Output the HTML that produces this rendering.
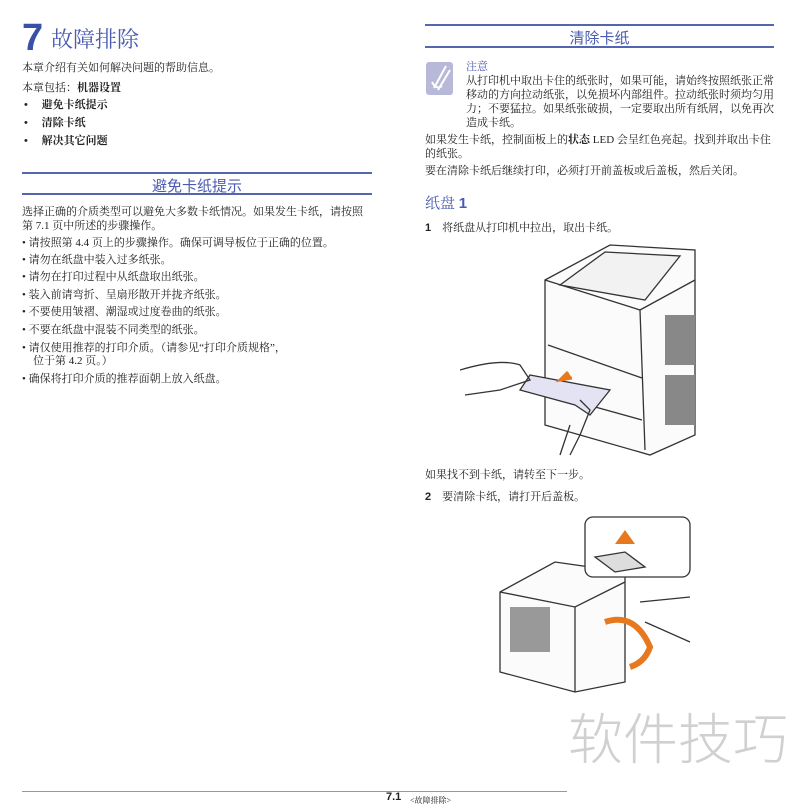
<!DOCTYPE html>
<html><head><meta charset="utf-8">
<style>
body{margin:0;width:800px;height:800px;background:#fff;position:relative;overflow:hidden;font-family:"Liberation Serif","Noto Serif CJK SC","Noto Sans CJK SC",serif;color:#222;}
.t{position:absolute;font-size:11px;line-height:13px;white-space:nowrap;}
.b{font-weight:bold}
.blue{color:#4a5bb0}
.line{position:absolute;height:2px;background:#5566b0}
.sec{position:absolute;font-size:15px;color:#4a5bb0;text-align:center;font-family:"Liberation Sans","Noto Sans CJK SC",sans-serif;}
</style></head><body>
<div class="t" style="left:22px;top:18px;font-size:38px;line-height:40px;font-weight:bold;color:#3a4fa8;font-family:'Liberation Sans',sans-serif">7</div>
<div class="t blue" style="left:51px;top:27px;font-size:22px;line-height:26px">故障排除</div>
<div class="t" style="left:22px;top:62px">本章介绍有关如何解决问题的帮助信息。</div>
<div class="t" style="left:22px;top:82px">本章包括：<span class="b">机器设置</span></div>
<div class="t b" style="left:24px;top:99px">•&nbsp;&nbsp;&nbsp;&nbsp;&nbsp;避免卡纸提示</div>
<div class="t b" style="left:24px;top:117px">•&nbsp;&nbsp;&nbsp;&nbsp;&nbsp;清除卡纸</div>
<div class="t b" style="left:24px;top:135px">•&nbsp;&nbsp;&nbsp;&nbsp;&nbsp;解决其它问题</div>
<div class="line" style="left:22px;top:172px;width:350px"></div>
<div class="sec" style="left:22px;top:175px;width:350px">避免卡纸提示</div>
<div class="line" style="left:22px;top:193px;width:350px"></div>
<div class="t" style="left:22px;top:206px">选择正确的介质类型可以避免大多数卡纸情况。如果发生卡纸，请按照</div>
<div class="t" style="left:22px;top:220px">第 7.1 页中所述的步骤操作。</div>
<div class="t" style="left:22px;top:237px">• 请按照第 4.4 页上的步骤操作。确保可调导板位于正确的位置。</div>
<div class="t" style="left:22px;top:254px">• 请勿在纸盘中装入过多纸张。</div>
<div class="t" style="left:22px;top:271px">• 请勿在打印过程中从纸盘取出纸张。</div>
<div class="t" style="left:22px;top:289px">• 装入前请弯折、呈扇形散开并拢齐纸张。</div>
<div class="t" style="left:22px;top:306px">• 不要使用皱褶、潮湿或过度卷曲的纸张。</div>
<div class="t" style="left:22px;top:324px">• 不要在纸盘中混装不同类型的纸张。</div>
<div class="t" style="left:22px;top:342px">• 请仅使用推荐的打印介质。（请参见“打印介质规格”，</div>
<div class="t" style="left:33px;top:355px">位于第 4.2 页。）</div>
<div class="t" style="left:22px;top:373px">• 确保将打印介质的推荐面朝上放入纸盘。</div>

<div class="line" style="left:425px;top:24px;width:349px"></div>
<div class="sec" style="left:425px;top:27px;width:349px">清除卡纸</div>
<div class="line" style="left:425px;top:46px;width:349px"></div>
<svg style="position:absolute;left:426px;top:60px" width="28" height="36"><rect x="0" y="2" width="27" height="33" rx="3" fill="#b8b8d8"/><path d="M8 28 L20 6 M12 30 L24 10 M6 22 Q10 30 16 26" stroke="#fff" stroke-width="2" fill="none"/></svg>
<div class="t blue" style="left:466px;top:61px">注意</div>
<div class="t" style="left:466px;top:75px">从打印机中取出卡住的纸张时，如果可能，请始终按照纸张正常</div>
<div class="t" style="left:466px;top:89px">移动的方向拉动纸张，以免损坏内部组件。拉动纸张时须均匀用</div>
<div class="t" style="left:466px;top:103px">力；不要猛拉。如果纸张破损，一定要取出所有纸屑，以免再次</div>
<div class="t" style="left:466px;top:117px">造成卡纸。</div>
<div class="t" style="left:425px;top:134px">如果发生卡纸，控制面板上的<span class="b">状态</span> LED 会呈红色亮起。找到并取出卡住</div>
<div class="t" style="left:425px;top:148px">的纸张。</div>
<div class="t" style="left:425px;top:165px">要在清除卡纸后继续打印，必须打开前盖板或后盖板，然后关闭。</div>
<div class="t blue" style="left:425px;top:195px;font-size:15px;line-height:17px">纸盘 <b style="font-family:'Liberation Sans',sans-serif">1</b></div>
<div class="t" style="left:425px;top:222px"><b style="font-family:'Liberation Sans',sans-serif">1</b>&nbsp;&nbsp;&nbsp;&nbsp;将纸盘从打印机中拉出，取出卡纸。</div>

<svg style="position:absolute;left:460px;top:240px" width="240" height="220" fill="none" stroke="#333" stroke-width="1.3">
<path d="M85 40 L150 5 L235 10 L235 195 L190 215 L85 185 Z" fill="#fbfbfb"/>
<path d="M85 40 L180 70 L235 40" />
<path d="M180 70 L185 210"/>
<path d="M100 45 L145 12 L220 16 L185 60 Z" fill="#f2f2f2"/>
<rect x="205" y="75" width="30" height="50" fill="#888" stroke="none"/>
<rect x="205" y="135" width="30" height="50" fill="#888" stroke="none"/>
<path d="M88 105 L182 138 M92 155 L182 180"/>
<path d="M70 135 L150 150 L130 175 L115 165 L60 150 Z" fill="#e4e3f4"/>
<path d="M108 132 L100 140 L112 138" fill="#e8781e" stroke="#e8781e" stroke-width="3"/>
<path d="M0 130 Q40 118 60 125 L70 140 L40 150 L5 155"/>
<path d="M120 160 L130 170 L120 195 L110 215 M100 215 L110 185"/>
</svg>
<div class="t" style="left:425px;top:469px">如果找不到卡纸，请转至下一步。</div>
<div class="t" style="left:425px;top:491px"><b style="font-family:'Liberation Sans',sans-serif">2</b>&nbsp;&nbsp;&nbsp;&nbsp;要清除卡纸，请打开后盖板。</div>

<svg style="position:absolute;left:495px;top:512px" width="200" height="185" fill="none" stroke="#333" stroke-width="1.3">
<path d="M5 80 L60 50 L130 60 L130 170 L80 180 L5 160 Z" fill="#fbfbfb"/>
<path d="M5 80 L80 95 L130 70 M80 95 L80 180"/>
<rect x="15" y="95" width="40" height="45" fill="#999" stroke="none"/>
<rect x="90" y="5" width="105" height="60" rx="8" fill="#fff"/>
<path d="M100 45 L130 40 L150 55 L120 60 Z" fill="#ddd"/>
<path d="M130 18 L140 32 L120 32 Z" fill="#e8781e" stroke="none"/>
<path d="M110 110 Q140 100 155 135 Q150 150 135 155" stroke="#e8781e" stroke-width="6"/>
<path d="M145 90 L195 85 M150 110 L195 130"/>
</svg>

<div class="t" style="left:568px;top:702px;font-size:55px;line-height:66px;color:#d0d0d0;font-family:'Noto Sans CJK SC',sans-serif;font-weight:300">软件技巧</div>
<div style="position:absolute;left:22px;top:791px;width:545px;height:1px;background:#999"></div>
<div class="t b" style="left:386px;top:791px;font-family:'Liberation Sans',sans-serif">7.1</div>
<div class="t" style="left:410px;top:794px;font-size:8px">&lt;故障排除&gt;</div>
</body></html>
